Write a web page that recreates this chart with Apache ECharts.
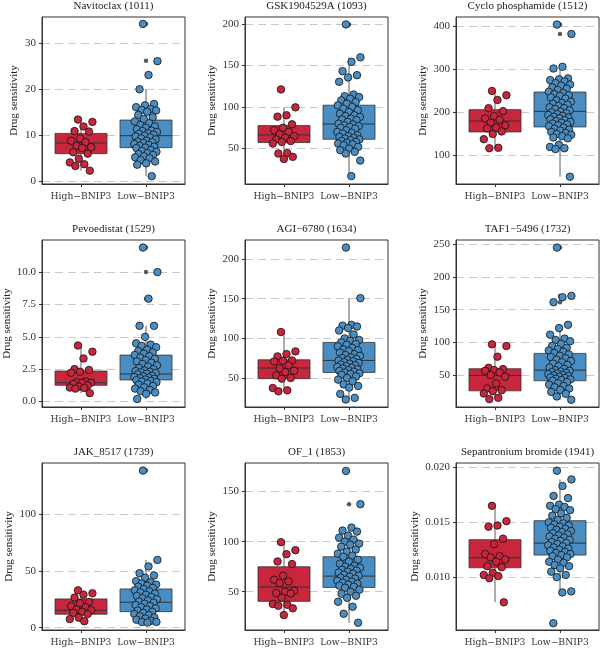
<!DOCTYPE html>
<html>
<head>
<meta charset="utf-8">
<script src="https://cdn.jsdelivr.net/npm/echarts@6/dist/echarts.min.js"></script>
<style>
  html, body { margin: 0; background: #fff; }
  #main { width: 600px; height: 650px; }
</style>
</head>
<body>
<div id="main"></div>
<script>
const groups = ['High−BNIP3', 'Low−BNIP3']

// box stats per group: [min, Q1, median, Q3, max]
const navitoclaxBox = [[2.3, 6.0, 8.3, 10.4, 13.4], [1.1, 7.3, 9.9, 13.3, 20.0]]
const navitoclaxOut = [[], [34.2, 26.2]]
const navitoclaxHigh = [13.4, 12.9, 11.9, 10.9, 10.8, 9.3, 8.8, 8.5, 7.7, 7.4, 7.2, 6.3, 6.0, 4.9, 4.1, 3.7, 3.3, 2.3]
const navitoclaxLow = [34.2, 26.1, 23.1, 20.0, 16.8, 16.5, 16.1, 15.7, 15.5, 15.4, 15.1, 14.4, 13.9, 13.5, 13.0, 12.6, 12.2, 11.9, 11.6, 11.3, 11.0, 10.9, 10.7, 10.4, 10.3, 10.1, 9.9, 9.7, 9.5, 9.3, 9.1, 8.8, 8.6, 8.5, 8.3, 8.1, 7.9, 7.7, 7.5, 7.3, 7.2, 6.8, 6.6, 6.4, 6.1, 5.9, 5.7, 5.4, 5.2, 5.0, 4.6, 4.3, 3.9, 3.6, 1.1]

const gskBox = [[37.5, 57.2, 66.4, 77.6, 99.6], [16.8, 61.2, 79.6, 102.2, 159.8]]
const gskOut = [[], [199.5]]
const gskHigh = [121.2, 99.6, 90.0, 88.4, 79.2, 75.0, 72.0, 70.0, 67.0, 65.0, 63.0, 61.0, 59.0, 58.0, 56.0, 44.5, 44.0, 40.0, 37.5]
const gskLow = [199.5, 159.8, 154.4, 143.2, 138.4, 135.6, 130.4, 115, 113, 112, 110, 108, 106, 104, 102, 100, 98, 96, 94, 92, 90, 89, 88, 86, 85, 84, 82, 80, 79, 78, 77, 76, 75, 74, 72, 70, 69, 68, 66, 65, 64, 63, 62, 61, 60, 59, 58, 57, 56, 55, 54, 52, 50, 48, 46, 44, 35.5, 16.8]

const cycloBox = [[117, 154.8, 180.2, 206.5, 250], [51, 166.4, 202.6, 247.4, 306]]
const cycloOut = [[], [404, 382]]
const cycloHigh = [250, 240, 229, 210, 203, 192, 186, 183, 176, 170, 165, 163, 156, 150, 138, 118, 117]
const cycloLow = [404, 382, 306, 302, 279, 277, 275, 272, 268, 265, 262, 258, 255, 252, 248, 245, 242, 240, 238, 235, 232, 228, 225, 222, 220, 218, 215, 212, 210, 208, 205, 202, 200, 198, 196, 194, 192, 190, 188, 186, 184, 182, 180, 178, 176, 174, 172, 170, 168, 165, 162, 160, 158, 155, 152, 150, 148, 145, 142, 140, 125, 120, 117, 115, 51]

const pevoBox = [[0.65, 1.26, 1.46, 2.36, 4.33], [0.2, 1.67, 2.13, 3.59, 5.85]]
const pevoOut = [[], [11.9, 10.0, 7.95]]
const pevoHigh = [4.33, 3.85, 3.33, 2.51, 2.44, 2.3, 2.23, 1.55, 1.5, 1.46, 1.44, 1.35, 1.25, 1.15, 1.08, 1.05, 1.0, 0.65]
const pevoLow = [11.9, 10.0, 7.95, 5.85, 5.85, 5.0, 4.5, 4.4, 4.3, 4.2, 4.0, 3.9, 3.8, 3.7, 3.6, 3.5, 3.4, 3.3, 3.2, 3.1, 3.0, 2.9, 2.8, 2.7, 2.6, 2.5, 2.4, 2.35, 2.3, 2.25, 2.2, 2.15, 2.1, 2.0, 1.95, 1.9, 1.85, 1.8, 1.75, 1.7, 1.65, 1.6, 1.55, 1.5, 1.4, 1.3, 1.2, 1.1, 1.0, 0.9, 0.8, 0.7, 0.6, 0.2]

const agiBox = [[33.2, 49.2, 62.6, 73, 108], [23, 57.1, 72.2, 94.9, 150.7]]
const agiOut = [[], []]
const agiHigh = [108, 83.6, 80.2, 77.3, 72.2, 71.8, 71, 66, 62, 59.2, 57.6, 53.4, 50, 49.2, 37.4, 34.5, 33.2]
const agiLow = [214.5, 150.7, 117, 116, 115, 113, 110, 105, 100, 98, 97, 95, 93, 92, 90, 88, 86, 85, 84, 82, 80, 79, 78, 76, 75, 74, 73, 72, 71, 70, 69, 68, 67, 66, 65, 64, 63, 62, 61, 60, 59, 58, 57, 56, 55, 54, 52, 50, 48, 46, 42, 40, 38, 30, 25, 23]

const tafBox = [[14, 26.6, 50, 60.2, 97.3], [13, 41.9, 58.1, 83.5, 127]]
const tafOut = [[], [244.5, 171, 161.3]]
const tafHigh = [97.3, 94.7, 78.5, 61.7, 59.7, 58.1, 57.1, 54.6, 50.5, 48, 37.8, 30.2, 27.6, 26.1, 22.6, 16, 14]
const tafLow = [244.5, 171, 169, 161.3, 127, 122, 112, 106, 104, 102, 98, 95, 92, 90, 88, 86, 84, 82, 80, 78, 76, 74, 72, 70, 68, 66, 64, 62, 60, 58, 57, 56, 55, 54, 53, 52, 51, 50, 49, 48, 47, 46, 45, 44, 43, 42, 40, 38, 36, 34, 32, 30, 28, 25, 22, 18, 13]

const jakBox = [[5.6, 11.8, 15.3, 25.3, 32.9], [4.5, 14.1, 22.4, 34.1, 59.7]]
const jakOut = [[], [138.5]]
const jakHigh = [32.9, 30.3, 29.1, 26.5, 22.6, 21.5, 19, 18, 16, 15.3, 14, 13, 12, 8.8, 7.5, 5.6]
const jakLow = [138.5, 59.7, 54, 48, 46, 44, 41, 40, 39, 38, 37, 36, 35, 34, 33, 32, 31, 30, 29, 28, 27, 26, 25, 24, 23, 22, 21, 20, 19, 18, 17, 16, 15, 14, 13, 12, 11, 10, 9, 8, 7, 6, 5, 5, 4.5]

const ofBox = [[26.7, 40.4, 54.7, 74.9, 99.5], [19, 54.3, 65.6, 84.9, 114]]
const ofOut = [[], [137.4]]
const ofHigh = [99.5, 91.5, 87.5, 80.2, 77.6, 66, 62, 60.3, 58.5, 51, 50, 48.7, 48.3, 44, 37.7, 37, 36, 33.4, 26.7]
const ofLow = [170.6, 137.4, 114, 111, 110, 106, 104, 102, 100, 98, 97, 95, 92, 90, 88, 86, 85, 82, 80, 78, 76, 75, 74, 73, 72, 71, 70, 69, 68, 67, 66, 65, 64, 63, 62, 61, 60, 59, 58, 57, 56, 55, 54, 52, 50, 48, 46, 44, 40, 35, 28, 19]

const sepBox = [[0.0077, 0.01085, 0.01176, 0.01341, 0.0165], [0.0086, 0.01201, 0.0131, 0.01514, 0.0189]]
const sepOut = [[], []]
const sepHigh = [0.0165, 0.0151, 0.0147, 0.0146, 0.0135, 0.0130, 0.0121, 0.0119, 0.0118, 0.0116, 0.0114, 0.0110, 0.0109, 0.0104, 0.0102, 0.0101, 0.0099, 0.0077]
const sepLow = [0.0197, 0.0189, 0.0183, 0.0174, 0.0172, 0.0166, 0.0165, 0.0164, 0.0162, 0.0161, 0.0158, 0.0156, 0.0154, 0.0152, 0.0150, 0.0149, 0.0148, 0.0147, 0.0146, 0.0145, 0.0144, 0.0143, 0.0142, 0.0141, 0.0140, 0.0139, 0.0138, 0.0137, 0.0136, 0.0135, 0.0134, 0.0133, 0.0132, 0.0131, 0.0130, 0.0129, 0.0128, 0.0127, 0.0126, 0.0125, 0.0124, 0.0123, 0.0122, 0.0121, 0.0120, 0.0119, 0.0118, 0.0116, 0.0114, 0.0113, 0.0111, 0.0110, 0.0108, 0.0105, 0.0102, 0.0100, 0.0087, 0.0086, 0.0058]

// tick labels on y
const navitoclaxTicks = [0, 10, 20, 30]
const gskTicks = [50, 100, 150, 200]
const cycloTicks = [100, 200, 300, 400]
const pevoTicks = [0, 2.5, 5, 7.5, 10]
const agiTicks = [50, 100, 150, 200]
const tafTicks = [50, 100, 150, 200, 250]
const jakTicks = [0, 50, 100]
const ofTicks = [50, 100, 150]
const sepTicks = [0.010, 0.015, 0.020]

const panels = [
  { title: 'Navitoclax (1011)', box: navitoclaxBox, out: navitoclaxOut, high: navitoclaxHigh, low: navitoclaxLow, ticks: navitoclaxTicks, min: -0.6, max: 35.7, digits: 0, gap: 22 },
  { title: 'GSK1904529A (1093)', box: gskBox, out: gskOut, high: gskHigh, low: gskLow, ticks: gskTicks, min: 7.3, max: 208.4, digits: 0, gap: 27 },
  { title: 'Cyclo phosphamide (1512)', box: cycloBox, out: cycloOut, high: cycloHigh, low: cycloLow, ticks: cycloTicks, min: 34, max: 421.5, digits: 0, gap: 27 },
  { title: 'Pevoedistat (1529)', box: pevoBox, out: pevoOut, high: pevoHigh, low: pevoLow, ticks: pevoTicks, min: -0.42, max: 12.48, digits: 1, gap: 29 },
  { title: 'AGI−6780 (1634)', box: agiBox, out: agiOut, high: agiHigh, low: agiLow, ticks: agiTicks, min: 13.5, max: 224, digits: 0, gap: 27 },
  { title: 'TAF1−5496 (1732)', box: tafBox, out: tafOut, high: tafHigh, low: tafLow, ticks: tafTicks, min: 2, max: 256, digits: 0, gap: 27 },
  { title: 'JAK_8517 (1739)', box: jakBox, out: jakOut, high: jakHigh, low: jakLow, ticks: jakTicks, min: -2.1, max: 145.2, digits: 0, gap: 27 },
  { title: 'OF_1 (1853)', box: ofBox, out: ofOut, high: ofHigh, low: ofLow, ticks: ofTicks, min: 11.8, max: 178.5, digits: 0, gap: 27 },
  { title: 'Sepantronium bromide (1941)', box: sepBox, out: sepOut, high: sepHigh, low: sepLow, ticks: sepTicks, min: 0.00518, max: 0.0204, digits: 3, gap: 35 }
]

const fills = ['#C8263C', '#4A8DC2']
const serif = 'Liberation Serif'
const wideSerif = 'DejaVu Serif'
const colLeft = [42, 245, 456]
const rowTop = [17, 240, 463]
const panelW = 143
const panelH = 167

// spread the points sideways like geom_jitter, but deterministic
function jitter (k) {
  return (((k * 0.6180339887 + 0.37) % 1) - 0.5) * 0.36
}

function renderBox (params, api) {
  const x = api.value(0)
  const wLo = api.coord([x, api.value(1)])
  const q1 = api.coord([x - 0.4, api.value(2)])
  const med = api.coord([x, api.value(3)])
  const q3 = api.coord([x + 0.4, api.value(4)])
  const wHi = api.coord([x, api.value(5)])
  const edge = { stroke: '#333', lineWidth: 0.8 }
  return {
    type: 'group',
    children: [
      { type: 'line', shape: { x1: wLo[0], y1: wLo[1], x2: wLo[0], y2: q1[1] }, style: edge },
      { type: 'line', shape: { x1: wHi[0], y1: q3[1], x2: wHi[0], y2: wHi[1] }, style: edge },
      { type: 'rect', shape: { x: q1[0], y: q3[1], width: q3[0] - q1[0], height: q1[1] - q3[1] }, style: { fill: fills[params.dataIndex], stroke: '#333', lineWidth: 0.8 } },
      { type: 'line', shape: { x1: q1[0], y1: med[1], x2: q3[0], y2: med[1] }, style: { stroke: '#333', lineWidth: 1 } }
    ]
  }
}

const grid = []
const xAxis = []
const yAxis = []
const title = []
const series = []

panels.forEach((p, i) => {
  const left = colLeft[i % 3]
  const top = rowTop[Math.floor(i / 3)]
  grid.push({ left: left, top: top, width: panelW, height: panelH, show: true, borderColor: '#333', borderWidth: 1, backgroundColor: '#fff' })
  title.push({
    text: p.title,
    left: left + panelW / 2,
    top: top - 16,
    textAlign: 'center',
    padding: 0,
    textStyle: { fontFamily: serif, fontSize: 11, fontWeight: 'normal', color: '#222' }
  })
  xAxis.push({
    gridIndex: i,
    type: 'value',
    min: 0.4,
    max: 2.6,
    axisLine: { show: true, onZero: false, lineStyle: { color: '#333', width: 1 } },
    axisTick: { show: true, length: 3, customValues: [1, 2], lineStyle: { color: '#333' } },
    axisLabel: {
      customValues: [1, 2],
      formatter: v => groups[Math.round(v) - 1],
      hideOverlap: false,
      showMinLabel: true,
      showMaxLabel: true,
      margin: 8,
      fontFamily: wideSerif,
      fontSize: 9.2,
      color: '#333'
    },
    splitLine: { show: false }
  })
  yAxis.push({
    gridIndex: i,
    type: 'value',
    min: p.min,
    max: p.max,
    name: 'Drug sensitivity',
    nameLocation: 'middle',
    nameGap: p.gap,
    nameTextStyle: { fontFamily: serif, fontSize: 11, color: '#222' },
    axisLine: { show: true, onZero: false, lineStyle: { color: '#333', width: 1 } },
    axisTick: { show: true, length: 3, customValues: p.ticks, lineStyle: { color: '#333' } },
    axisLabel: {
      customValues: p.ticks,
      formatter: v => v.toFixed(p.digits),
      margin: 6,
      fontFamily: serif,
      fontSize: 11,
      color: '#333'
    },
    splitLine: { show: true, lineStyle: { color: '#c8c8c8', width: 1, type: [8, 5] } }
  })
  series.push({
    type: 'custom',
    xAxisIndex: i,
    yAxisIndex: i,
    renderItem: renderBox,
    encode: { x: 0, y: [1, 2, 3, 4, 5] },
    data: p.box.map((b, g) => [g + 1].concat(b)),
    silent: true
  })
  series.push({
    type: 'scatter',
    xAxisIndex: i,
    yAxisIndex: i,
    symbolSize: 4.5,
    itemStyle: { color: '#333' },
    data: p.out[0].map(v => [1, v]).concat(p.out[1].map(v => [2, v])),
    silent: true
  })
  ;[p.high, p.low].forEach((vals, g) => {
    series.push({
      type: 'scatter',
      xAxisIndex: i,
      yAxisIndex: i,
      symbolSize: 7.5,
      itemStyle: { color: fills[g], borderColor: '#111', borderWidth: 0.8, opacity: 1 },
      data: vals.map((v, k) => [g + 1 + jitter(k), v]),
      silent: true
    })
  })
})

const myChart = echarts.init(document.getElementById('main'))
myChart.setOption({
  animation: false,
  backgroundColor: '#fff',
  title: title,
  grid: grid,
  xAxis: xAxis,
  yAxis: yAxis,
  series: series
})
window.addEventListener('resize', function () {
  myChart.resize()
})
</script>
</body>
</html>
